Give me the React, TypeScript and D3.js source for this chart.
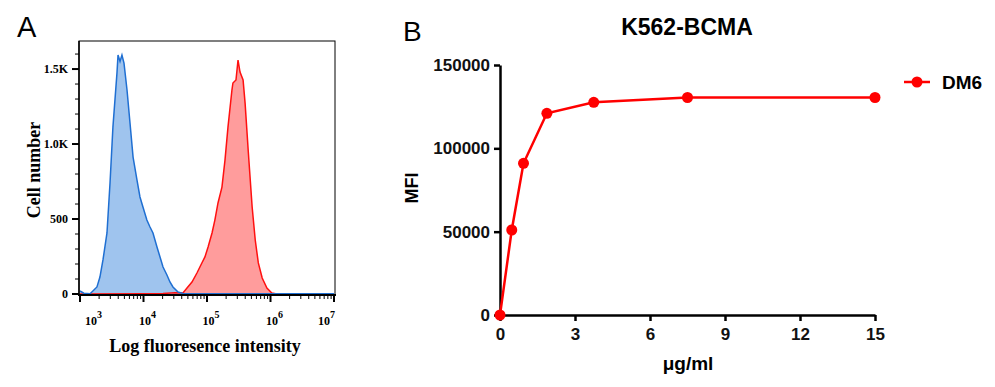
import React, { useEffect, useRef } from 'react';
import * as d3 from 'd3';

// Panel A: flow cytometry histograms (intensity vs cell count)
const blueIntensity = [1000, 1150, 1440, 1850, 2060, 2300, 2660, 2970, 3300, 3820, 3970, 4270, 4580, 4930, 5500, 6130, 6850, 7900, 8800, 9800, 11300, 12660, 14100, 16300, 18200, 20300, 23400, 26100, 29100, 35000, 41800, 60000, 100000, 1000000, 10000000];
const blueCounts = [20, 5, 2, 47, 113, 227, 407, 740, 1113, 1473, 1593, 1550, 1593, 1540, 1360, 1140, 913, 760, 647, 580, 493, 447, 407, 313, 247, 180, 127, 80, 47, 13, 4, 2, 2, 2, 2];

const redIntensity = [1000, 10000, 20300, 31400, 41800, 48400, 58000, 69400, 83000, 92800, 104000, 120000, 133000, 149000, 172000, 192000, 214000, 247000, 256000, 286000, 308000, 331000, 370000, 398000, 445000, 514000, 575000, 643000, 740000, 878000, 1050000, 1260000, 1500000, 10000000];
const redCounts = [0, 1, 3, 8, 7, 40, 80, 140, 207, 247, 313, 407, 493, 607, 713, 893, 1113, 1360, 1407, 1427, 1560, 1480, 1427, 1273, 960, 580, 360, 207, 107, 40, 7, 0, 0, 0];

const countTicks = [0, 500, 1000, 1500];
const countTickLabels = ['0', '500', '1.0K', '1.5K'];
const decadeTicks = [3, 4, 5, 6, 7];

// Panel B: dose response
const doseUgMl = [0, 0.47, 0.94, 1.875, 3.75, 7.5, 15];
const mfiValues = [0, 51000, 91000, 121000, 127600, 130500, 130500];
const doseTicks = [0, 3, 6, 9, 12, 15];
const mfiTicks = [0, 50000, 100000, 150000];
const seriesName = 'DM6';

const serif = '"Liberation Serif", "Times New Roman", serif';
const sans = '"Liberation Sans", Arial, sans-serif';

const App: React.FC = () => {
  const svgRef = useRef<SVGSVGElement | null>(null);

  useEffect(() => {
    if (!svgRef.current) return;
    const svg = d3.select(svgRef.current);
    svg.selectAll('*').remove();

    // ---------- Panel A ----------
    const xA = d3.scaleLog().domain([1000, 1e7]).range([80, 334]);
    const yA = d3.scaleLinear().domain([0, 1687]).range([294, 41]);
    const gA = svg.append('g');

    gA.append('text').attr('x', 17).attr('y', 37).text('A')
      .style('font-family', sans).style('font-size', '29px');

    const area = d3.area<[number, number]>()
      .x(d => xA(d[0])).y0(yA(0)).y1(d => yA(d[1]));
    const line = d3.line<[number, number]>()
      .x(d => xA(d[0])).y(d => yA(d[1]));

    const blue = blueIntensity.map((v, i) => [v, blueCounts[i]] as [number, number]);
    const red = redIntensity.map((v, i) => [v, redCounts[i]] as [number, number]);

    gA.append('path').attr('d', area(red)).attr('fill', '#ff9c9c');
    gA.append('path').attr('d', area(blue)).attr('fill', '#9fc4ee');
    gA.append('path').attr('d', line(red)).attr('fill', 'none')
      .attr('stroke', '#ff1010').attr('stroke-width', 1.5);
    gA.append('path').attr('d', line(blue)).attr('fill', 'none')
      .attr('stroke', '#1f6fd2').attr('stroke-width', 1.5);

    // frame
    gA.append('rect').attr('x', 79).attr('y', 41).attr('width', 256).attr('height', 254)
      .attr('fill', 'none').attr('stroke', '#000').attr('stroke-width', 1);
    gA.append('line').attr('x1', 79).attr('x2', 79).attr('y1', 41).attr('y2', 296)
      .attr('stroke', '#000').attr('stroke-width', 1.5);
    gA.append('line').attr('x1', 78).attr('x2', 336).attr('y1', 295).attr('y2', 295)
      .attr('stroke', '#000').attr('stroke-width', 2);

    // y ticks
    d3.range(0, 1700, 100).forEach(v => {
      const major = v % 500 === 0;
      gA.append('line').attr('x1', major ? 72 : 75).attr('x2', 79)
        .attr('y1', yA(v)).attr('y2', yA(v))
        .attr('stroke', '#000').attr('stroke-width', major ? 2 : 1);
    });
    countTicks.forEach((v, i) => {
      gA.append('text').attr('x', 68).attr('y', yA(v) + 4).attr('text-anchor', 'end')
        .text(countTickLabels[i])
        .style('font-family', serif).style('font-weight', 'bold').style('font-size', '12px');
    });

    // x ticks (log)
    xA.ticks().forEach(v => {
      const major = Math.abs(Math.log10(v) - Math.round(Math.log10(v))) < 1e-9;
      gA.append('line').attr('x1', xA(v)).attr('x2', xA(v))
        .attr('y1', 295).attr('y2', major ? 302 : 299)
        .attr('stroke', '#000').attr('stroke-width', major ? 2 : 1);
    });
    decadeTicks.forEach((e, i) => {
      const last = i === decadeTicks.length - 1;
      const first = i === 0;
      const t = gA.append('text')
        .attr('x', first ? xA(Math.pow(10, e)) + 5 : last ? xA(Math.pow(10, e)) + 1 : xA(Math.pow(10, e)) + 4)
        .attr('y', 325)
        .attr('text-anchor', first ? 'start' : last ? 'end' : 'middle')
        .style('font-family', serif).style('font-weight', 'bold').style('font-size', '12px');
      t.append('tspan').text('10');
      t.append('tspan').attr('dy', -7).style('font-size', '10px').text(String(e));
    });

    gA.append('text').attr('x', 205).attr('y', 352).attr('text-anchor', 'middle')
      .text('Log fluoresence intensity')
      .style('font-family', serif).style('font-weight', 'bold').style('font-size', '18px');
    gA.append('text').attr('transform', 'translate(40,170) rotate(-90)').attr('text-anchor', 'middle')
      .text('Cell number')
      .style('font-family', serif).style('font-weight', 'bold').style('font-size', '18px');

    // ---------- Panel B ----------
    const xB = d3.scaleLinear().domain([0, 15]).range([500, 875]);
    const yB = d3.scaleLinear().domain([0, 150000]).range([315, 65]);
    const gB = svg.append('g');

    gB.append('text').attr('x', 403).attr('y', 41).text('B')
      .style('font-family', sans).style('font-size', '28px');
    gB.append('text').attr('x', 687).attr('y', 35).attr('text-anchor', 'middle')
      .text('K562-BCMA')
      .style('font-family', sans).style('font-weight', 'bold').style('font-size', '23px');

    const yAxis = gB.append('g').attr('transform', 'translate(500,0)')
      .call(d3.axisLeft(yB).tickValues(mfiTicks).tickSize(6).tickSizeOuter(0).tickPadding(4).tickFormat(d3.format('d')));
    const xAxis = gB.append('g').attr('transform', 'translate(0,315)')
      .call(d3.axisBottom(xB).tickValues(doseTicks).tickSize(6).tickSizeOuter(0).tickPadding(7).tickFormat(d3.format('d')));
    [yAxis, xAxis].forEach(ax => {
      ax.select('.domain').attr('stroke-width', 2.5);
      ax.selectAll('line').attr('stroke-width', 2.5);
      ax.selectAll('text').style('font-family', sans).style('font-weight', 'bold')
        .style('font-size', '17px').attr('fill', '#111');
    });

    const lineB = d3.line<number>().x((d, i) => xB(doseUgMl[i])).y(d => yB(d));
    gB.append('path').attr('d', lineB(mfiValues)).attr('fill', 'none')
      .attr('stroke', '#ff0000').attr('stroke-width', 2.5);
    gB.selectAll('circle.pt').data(mfiValues).enter().append('circle')
      .attr('cx', (d, i) => xB(doseUgMl[i])).attr('cy', d => yB(d)).attr('r', 5.5)
      .attr('fill', '#ff0000');

    // legend
    const lg = gB.append('g').attr('transform', 'translate(904,82)');
    lg.append('line').attr('x1', 0).attr('x2', 26).attr('y1', 0).attr('y2', 0)
      .attr('stroke', '#ff0000').attr('stroke-width', 2.5);
    lg.append('circle').attr('cx', 13).attr('cy', 0).attr('r', 5.5).attr('fill', '#ff0000');
    lg.append('text').attr('x', 38).attr('y', 7).text(seriesName)
      .style('font-family', sans).style('font-weight', 'bold').style('font-size', '19px');

    gB.append('text').attr('x', 688).attr('y', 370).attr('text-anchor', 'middle')
      .text('μg/ml')
      .style('font-family', sans).style('font-weight', 'bold').style('font-size', '19px');
    gB.append('text').attr('transform', 'translate(418,188) rotate(-90)').attr('text-anchor', 'middle')
      .text('MFI')
      .style('font-family', sans).style('font-weight', 'bold').style('font-size', '18px');
  }, []);

  return (
    <svg ref={svgRef} width={995} height={387}
      style={{ position: 'absolute', left: 0, top: 0, background: '#fff' }} />
  );
};

export default App;
